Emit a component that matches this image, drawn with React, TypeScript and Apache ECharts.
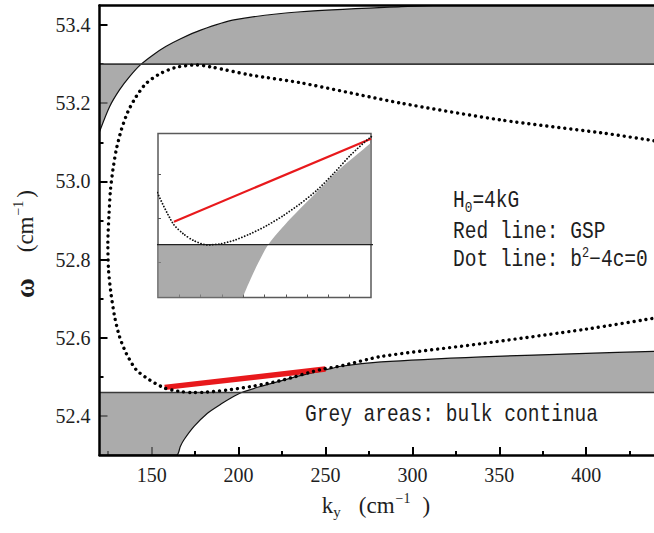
import React, { useEffect, useRef } from 'react';
import * as echarts from 'echarts';

// ---- axis ticks ----
const xMajorTicks = [150, 200, 250, 300, 350, 400];
const xMinorTicks = [125, 175, 225, 275, 325, 375, 425];
const yMajorTicks = [52.4, 52.6, 52.8, 53.0, 53.2, 53.4];
const yMinorTicks = [52.5, 52.7, 52.9, 53.1, 53.3];
const insetXTicks = [160, 170, 180, 190, 200, 210, 220, 230, 240];
const insetYTicks = [52.45, 52.475, 52.5];

// ---- upper bulk continuum edge (grey between edge and level) ----
const upperBulkK = [120, 125.8, 131.5, 137.3, 143.5, 150.6, 158.1, 166.7, 178.2, 197.3, 235.9, 293.6, 330, 380, 439];
const upperBulkW = [53.127, 53.191, 53.234, 53.268, 53.298, 53.323, 53.345, 53.365, 53.387, 53.413, 53.434, 53.447, 53.453, 53.458, 53.461];
const upperLevel = 53.3;

// ---- lower bulk continuum edge ----
const lowerBulkK = [120, 164.4, 166.5, 168.6, 174.4, 182.1, 190.1, 195.6, 201.8, 212, 224.5, 235.5, 249.5, 259, 282, 340, 400, 439];
const lowerBulkW = [52.3, 52.3, 52.322, 52.339, 52.373, 52.407, 52.431, 52.446, 52.46, 52.4745, 52.4897, 52.503, 52.5172, 52.527, 52.538, 52.551, 52.56, 52.565];
const lowerLevel = 52.46;
const levelK = [120, 439];

// ---- dot line: b^2 - 4c = 0 (path order) ----
const dotK = [439, 409, 351, 293.6, 236, 207, 185, 175.7, 164.2, 155, 146.9, 141.1, 136.3, 132.5, 129.6, 127.7, 126.3, 125.4, 124.8, 125.2, 126.7, 128.7, 131.5, 135.4, 141.1, 148.8, 157, 162, 166.7, 173, 179.2, 185.4, 193.3, 201.1, 208.9, 216.7, 224.5, 232.3, 240.2, 249.5, 259, 282, 340, 400, 439];
const dotW = [53.104, 53.124, 53.157, 53.2, 53.252, 53.272, 53.292, 53.298, 53.292, 53.276, 53.251, 53.217, 53.178, 53.131, 53.08, 53.029, 52.978, 52.91, 52.842, 52.773, 52.71, 52.654, 52.603, 52.56, 52.518, 52.492, 52.472, 52.466, 52.4623, 52.4598, 52.4604, 52.4623, 52.4661, 52.4708, 52.4765, 52.4831, 52.4907, 52.5001, 52.5105, 52.5206, 52.528, 52.552, 52.585, 52.622, 52.65];

// ---- red line: GSP ----
const gspK = [157.5, 250];
const gspW = [52.473, 52.52];

const zip = (a: number[], b: number[]) => a.map((v, i) => [v, b[i]]);
const constLine = (ks: number[], w: number) => ks.map((k) => [k, w]);

const serif = "'Liberation Serif', 'DejaVu Serif', serif";
const mono = "'Liberation Mono', 'DejaVu Sans Mono', monospace";
const fillColor = '#8a8a8a';
const fillOpacity = 0.72;
const ink = '#1e1e1e';

function buildOption() {
  const mainX = { type: 'value', gridIndex: 0, min: 120, max: 439, position: 'bottom', splitLine: { show: false } };
  const mainY = { type: 'value', gridIndex: 0, min: 52.3, max: 53.45, position: 'left', splitLine: { show: false } };
  const noLine = { show: false };
  const noLabel = { show: false };
  const noTick = { show: false };

  return {
    animation: false,
    backgroundColor: '#fff',
    grid: [
      { left: 99.5, top: 5.5, width: 554.5, height: 449.5 },
      { left: 158, top: 133.5, width: 213, height: 164, show: true, backgroundColor: '#fff', borderColor: '#5a5a5a', borderWidth: 1.5 },
    ],
    xAxis: [
      {
        ...mainX,
        axisLine: noLine,
        axisTick: { show: true, inside: true, length: 8, lineStyle: { color: '#000', width: 2 }, customValues: xMajorTicks },
        axisLabel: { show: true, customValues: xMajorTicks, margin: 10, fontFamily: serif, fontSize: 20, color: ink },
      },
      {
        ...mainX,
        axisLine: noLine,
        axisTick: { show: true, inside: true, length: 4, lineStyle: { color: '#000', width: 2 }, customValues: xMinorTicks },
        axisLabel: noLabel,
      },
      { ...mainX, z: 5, axisLine: { show: true, onZero: false, lineStyle: { color: '#000', width: 2.5 } }, axisTick: noTick, axisLabel: noLabel },
      { ...mainX, position: 'top', z: 5, axisLine: { show: true, onZero: false, lineStyle: { color: '#000', width: 2.5 } }, axisTick: noTick, axisLabel: noLabel },
      {
        type: 'value', gridIndex: 1, min: 150, max: 250, position: 'bottom', splitLine: { show: false },
        axisLine: noLine,
        axisTick: { show: true, inside: true, length: 3, lineStyle: { color: '#555', width: 1 }, customValues: insetXTicks },
        axisLabel: noLabel,
      },
    ],
    yAxis: [
      {
        ...mainY,
        axisLine: noLine,
        axisTick: { show: true, inside: true, length: 8, lineStyle: { color: '#000', width: 2 }, customValues: yMajorTicks },
        axisLabel: {
          show: true, customValues: yMajorTicks, margin: 9, fontFamily: serif, fontSize: 20, color: ink,
          formatter: (v: number) => v.toFixed(1),
        },
      },
      {
        ...mainY,
        axisLine: noLine,
        axisTick: { show: true, inside: true, length: 4, lineStyle: { color: '#000', width: 2 }, customValues: yMinorTicks },
        axisLabel: noLabel,
      },
      { ...mainY, z: 5, axisLine: { show: true, onZero: false, lineStyle: { color: '#000', width: 2.5 } }, axisTick: noTick, axisLabel: noLabel },
      {
        type: 'value', gridIndex: 1, min: 52.43, max: 52.523, position: 'left', splitLine: { show: false },
        axisLine: noLine,
        axisTick: { show: true, inside: true, length: 3, lineStyle: { color: '#555', width: 1 }, customValues: insetYTicks },
        axisLabel: noLabel,
      },
    ],
    series: [
      // main: upper bulk continuum
      {
        type: 'line', xAxisIndex: 0, yAxisIndex: 0, data: zip(upperBulkK, upperBulkW), showSymbol: false, smooth: 0.25,
        lineStyle: { color: '#111', width: 1.2 },
        areaStyle: { origin: upperLevel, color: fillColor, opacity: fillOpacity },
      },
      {
        type: 'line', xAxisIndex: 0, yAxisIndex: 0, data: constLine(levelK, upperLevel), showSymbol: false,
        lineStyle: { color: '#3a3a3a', width: 1.6 },
      },
      // main: lower bulk continuum
      {
        type: 'line', xAxisIndex: 0, yAxisIndex: 0, data: zip(lowerBulkK, lowerBulkW), showSymbol: false, smooth: 0.25,
        lineStyle: { color: '#111', width: 1.2 },
        areaStyle: { origin: lowerLevel, color: fillColor, opacity: fillOpacity },
      },
      {
        type: 'line', xAxisIndex: 0, yAxisIndex: 0, data: constLine(levelK, lowerLevel), showSymbol: false,
        lineStyle: { color: '#3a3a3a', width: 1.6 },
      },
      // main: GSP red line
      {
        type: 'line', xAxisIndex: 0, yAxisIndex: 0, data: zip(gspK, gspW), showSymbol: false,
        lineStyle: { color: '#e8191c', width: 5.5 },
      },
      // main: dot line
      {
        type: 'line', xAxisIndex: 0, yAxisIndex: 0, data: zip(dotK, dotW), showSymbol: false, smooth: 0.25,
        lineStyle: { color: '#000', width: 3.4, type: [0.01, 6], cap: 'round' },
      },
      // inset
      {
        type: 'line', xAxisIndex: 4, yAxisIndex: 3, z: 3, data: zip(lowerBulkK, lowerBulkW), showSymbol: false, smooth: 0.25,
        lineStyle: { width: 0 },
        areaStyle: { origin: lowerLevel, color: fillColor, opacity: fillOpacity },
      },
      {
        type: 'line', xAxisIndex: 4, yAxisIndex: 3, z: 3, data: constLine(levelK, lowerLevel), showSymbol: false,
        lineStyle: { color: '#222', width: 1.3 },
      },
      {
        type: 'line', xAxisIndex: 4, yAxisIndex: 3, z: 3, data: zip(gspK, gspW), showSymbol: false,
        lineStyle: { color: '#e8191c', width: 2.2 },
      },
      {
        type: 'line', xAxisIndex: 4, yAxisIndex: 3, z: 3, data: zip(dotK, dotW), showSymbol: false, smooth: 0.25,
        lineStyle: { color: '#111', width: 1.8, type: [0.01, 3], cap: 'round' },
      },
    ],
    graphic: [
      {
        type: 'text', x: 25, y: 244, rotation: Math.PI / 2, z: 10,
        style: {
          text: '{w|ω}{n|(cm}{sup|−1}{n|)}',
          align: 'center', verticalAlign: 'middle', fill: ink,
          rich: {
            w: { fontFamily: serif, fontSize: 27, fontWeight: 'bold', lineHeight: 28, fill: ink, padding: [0, 26, 0, 0] },
            n: { fontFamily: serif, fontSize: 23, lineHeight: 28, fill: ink },
            sup: { fontFamily: serif, fontSize: 14, lineHeight: 16, verticalAlign: 'top', fill: ink, padding: [0, 3, 0, 1] },
          },
        },
      },
      {
        type: 'text', x: 376, y: 505, z: 10,
        style: {
          text: '{n|k}{sub|y}{n|(cm}{sup|−1}{n|)}',
          align: 'center', verticalAlign: 'middle', fill: ink,
          rich: {
            n: { fontFamily: serif, fontSize: 23, lineHeight: 28, fill: ink },
            sub: { fontFamily: serif, fontSize: 15, lineHeight: 9, verticalAlign: 'bottom', fill: ink, padding: [0, 18, 0, 0] },
            sup: { fontFamily: serif, fontSize: 14, lineHeight: 16, verticalAlign: 'top', fill: ink, padding: [0, 12, 0, 1] },
          },
        },
      },
      {
        type: 'text', x: 453, y: 201, scaleX: 0.85, z: 10,
        style: {
          text: '{m|H}{s|0}{m|=4kG}',
          align: 'left', verticalAlign: 'middle', fill: ink,
          rich: {
            m: { fontFamily: mono, fontSize: 23, lineHeight: 28, fill: ink },
            s: { fontFamily: mono, fontSize: 15, lineHeight: 13, verticalAlign: 'bottom', fill: ink },
          },
        },
      },
      {
        type: 'text', x: 453, y: 232, scaleX: 0.85, z: 10,
        style: { text: 'Red line: GSP', align: 'left', verticalAlign: 'middle', fontFamily: mono, fontSize: 23, fill: ink },
      },
      {
        type: 'text', x: 453, y: 260, scaleX: 0.85, z: 10,
        style: {
          text: '{m|Dot line: b}{p|2}{m|−4c=0}',
          align: 'left', verticalAlign: 'middle', fill: ink,
          rich: {
            m: { fontFamily: mono, fontSize: 23, lineHeight: 28, fill: ink },
            p: { fontFamily: mono, fontSize: 14, lineHeight: 20, verticalAlign: 'top', fill: ink },
          },
        },
      },
      {
        type: 'text', x: 305, y: 415, scaleX: 0.85, z: 10,
        style: { text: 'Grey areas: bulk continua', align: 'left', verticalAlign: 'middle', fontFamily: mono, fontSize: 23, fill: ink },
      },
    ],
  };
}

export default function App() {
  const ref = useRef<HTMLDivElement>(null);
  useEffect(() => {
    if (!ref.current) return;
    const chart = echarts.init(ref.current, null, { renderer: 'svg' });
    chart.setOption(buildOption() as any);
    return () => chart.dispose();
  }, []);
  return (
    <div
      ref={ref}
      style={{ position: 'fixed', left: 0, top: 0, width: 654, height: 533, background: '#fff' }}
    />
  );
}
